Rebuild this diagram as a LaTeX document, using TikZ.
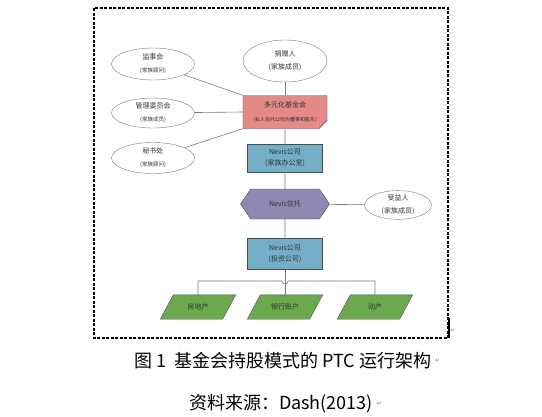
\documentclass[tikz,border=0pt]{standalone}
\usepackage{fontspec}
\setmainfont{Noto Sans CJK SC}
\newfontfamily\markfont{DejaVu Sans}
\usetikzlibrary{shapes.geometric,shapes.symbols,shapes.misc,backgrounds}

\definecolor{fndred}{HTML}{E68A89}
\definecolor{offblue}{HTML}{75AFC7}
\definecolor{trustpurple}{HTML}{8F88B3}
\definecolor{assetgreen}{HTML}{6BA84E}
\definecolor{linegray}{HTML}{7A7A7A}

\newcommand{\mainsz}{\fontsize{7}{10}\selectfont}
\newcommand{\subsz}{\fontsize{5.5}{7}\selectfont}

\begin{document}
\begin{tikzpicture}[x=1pt, y=-1pt,
  member/.style={ellipse, draw=linegray, fill=white, inner sep=0pt, align=center, text=black!80},
  unit/.style={rectangle, draw=black!70, fill=offblue, minimum width=75pt, inner sep=0pt, align=center, text=black!80, font=\mainsz},
  asset/.style={rectangle, minimum width=62pt, minimum height=24pt, inner sep=0pt, text=black!80, font=\mainsz},
  link/.style={draw=linegray, line width=0.6pt}]
  \useasboundingbox (0,0) rectangle (542,416);

  % outer frame
  \draw[line width=1.1pt, dash pattern=on 3pt off 1.5pt] (94,8) rectangle (448,338);
  \draw[line width=1.4pt] (449,318) -- (449,338);

  % family members and advisers
  \node[member, minimum width=84pt, minimum height=42pt] (donor) at (285,61) {\mainsz 捐赠人\\[1pt]\mainsz (家族成员)};
  \node[member, minimum width=83pt, minimum height=32pt] (sup) at (153,64) {\mainsz 监事会\\[1pt]\subsz (家族顾问)};
  \node[member, minimum width=83pt, minimum height=30pt] (mgmt) at (153,113) {\mainsz 管理委员会\\[1pt]\subsz (家族成员)};
  \node[member, minimum width=83pt, minimum height=31pt] (secr) at (153,158) {\mainsz 秘书处\\[1pt]\subsz (家族顾问)};
  \node[member, minimum width=67pt, minimum height=28pt] (benef) at (398,205) {\mainsz 受益人\\[1pt]\mainsz (家族成员)};

  % foundation, companies and trust
  \node[chamfered rectangle, chamfered rectangle corners=south east, chamfered rectangle xsep=4pt, chamfered rectangle ysep=4pt,
    draw=black!70, fill=fndred, minimum width=84pt, minimum height=33pt, inner sep=0pt, align=center, text=black!80] (fnd) at (285,112)
    {\mainsz 多元化基金会\\[2pt]\fontsize{5}{6}\selectfont (私人信托公司为董事和股东)};
  \node[unit, minimum height=28pt] (office) at (285,158) {Nevis公司\\[1pt](家族办公室)};
  \node[signal, signal to=east and west, signal pointer angle=112, draw=black!70, fill=trustpurple,
    minimum width=89pt, minimum height=30pt, inner sep=0pt, text=black!80, font=\mainsz] (trust) at (285,204) {Nevis信托};
  \node[unit, minimum height=31pt] (invest) at (285,254) {Nevis公司\\[1pt](投资公司)};

  % assets
  \node[asset] (estate) at (198,307) {房地产};
  \node[asset] (bank) at (285,307) {银行账户};
  \node[asset] (movable) at (375,307) {动产};
  \begin{scope}[on background layer]
    \foreach \a in {estate,bank,movable}
      \draw[draw=black!70, fill=assetgreen] ([xshift=-6.5pt]\a.south west) -- ([xshift=-6.5pt]\a.south east)
        -- ([xshift=6.5pt]\a.north east) -- ([xshift=6.5pt]\a.north west) -- cycle;
  \end{scope}

  % connectors
  \draw[link] (donor) -- (fnd);
  \draw[link] (sup) -- (fnd.north west);
  \draw[link] (mgmt) -- (fnd.west);
  \draw[link] (secr) -- (fnd.south west);
  \draw[link] (fnd) -- (office);
  \draw[link] (office) -- (trust);
  \draw[link] (trust) -- (benef);
  \draw[link] (trust) -- (invest);
  \draw[link] (invest) -- (bank);
  \coordinate (hopL) at (282,281);
  \coordinate (hopR) at (288,281);
  \draw[link] (estate.north) |- (hopL) arc[start angle=180, end angle=360, radius=3pt] -- (hopR) -| (movable.north);

  % caption
  \node[font=\fontsize{18}{21}\selectfont] (cap) at (283,361) {图 1\ \ 基金会持股模式的 PTC 运行架构};
  \node[font=\fontsize{18}{21}\selectfont] (src) at (281,404) {资料来源：Dash(2013)};
  \node[font=\markfont\fontsize{6}{6}\selectfont, text=gray, inner sep=0pt, anchor=west] (mk1) at (cap.east) {↵};
  \node[font=\markfont\fontsize{6}{6}\selectfont, text=gray, inner sep=0pt, anchor=west] (mk2) at (src.east) {↵};
  \node[font=\markfont\fontsize{6}{6}\selectfont, text=gray, inner sep=0pt] (mk3) at (453,331) {↵};
\end{tikzpicture}
\end{document}
